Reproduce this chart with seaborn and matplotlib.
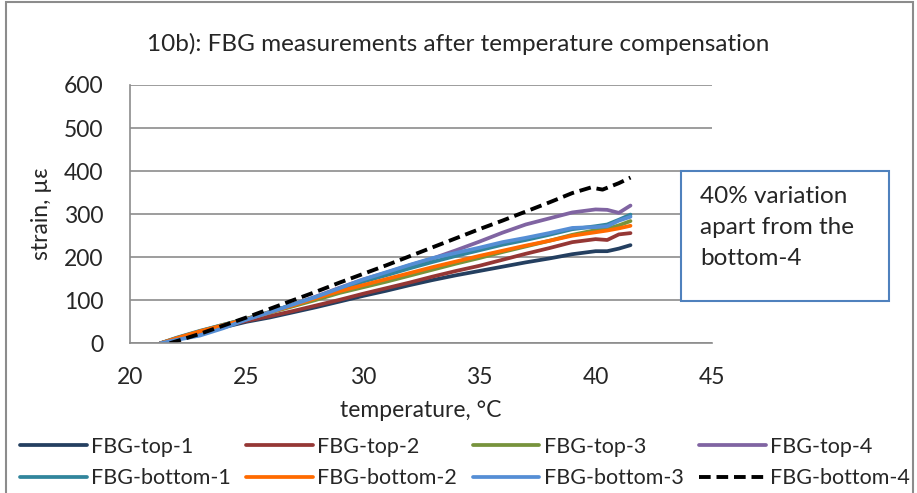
import pandas as pd
import matplotlib.pyplot as plt
import seaborn as sns
from matplotlib.patches import Rectangle

temperature = [21.3, 22, 23, 24, 25, 26, 27, 28, 29, 30, 31, 32, 33, 34, 35,
               36, 37, 38, 39, 40, 40.5, 41, 41.5]
temperature_b4 = [21.7, 22, 23, 24, 25, 26, 27, 28, 29, 30, 31, 32, 33, 34, 35,
                  36, 37, 38, 39, 39.8, 40.3, 41, 41.5]

top_1 = [0, 10, 24, 37, 50, 60, 72, 84, 97, 110, 122, 135, 147, 158, 168,
         178, 188, 197, 207, 214, 214, 220, 228]
top_2 = [0, 11, 26, 40, 52, 63, 75, 88, 101, 115, 128, 141, 155, 168, 180,
         194, 208, 221, 235, 242, 240, 253, 256]
top_3 = [0, 12, 28, 43, 57, 71, 86, 101, 117, 130, 143, 157, 171, 185, 198,
         212, 225, 238, 252, 263, 266, 274, 284]
top_4 = [0, 10, 25, 40, 55, 72, 90, 109, 129, 148, 164, 181, 197, 216, 236,
         257, 276, 290, 304, 311, 310, 303, 320]
bottom_1 = [0, 13, 29, 43, 57, 73, 90, 107, 126, 143, 158, 174, 189, 203, 216,
            229, 240, 252, 265, 272, 276, 287, 299]
bottom_2 = [0, 12, 28, 42, 56, 72, 88, 105, 121, 135, 149, 163, 177, 190, 203,
            215, 227, 238, 250, 258, 262, 267, 273]
bottom_3 = [0, 8, 18, 35, 55, 72, 90, 108, 128, 148, 165, 182, 198, 210, 222,
            235, 245, 256, 268, 270, 272, 285, 294]
bottom_4 = [0, 5, 22, 41, 60, 80, 100, 120, 141, 161, 181, 202, 223, 244, 265,
            285, 306, 327, 349, 362, 357, 372, 385]

names = ['FBG-top-1', 'FBG-top-2', 'FBG-top-3', 'FBG-top-4',
         'FBG-bottom-1', 'FBG-bottom-2', 'FBG-bottom-3', 'FBG-bottom-4']
series = [top_1, top_2, top_3, top_4, bottom_1, bottom_2, bottom_3, bottom_4]
colors = ['#243F60', '#953735', '#77933C', '#8064A2',
          '#31859C', '#FF6A00', '#558ED5', '#000000']

sns.set_style('white')
plt.rcParams['font.family'] = ['Lato', 'DejaVu Sans']

fig = plt.figure(figsize=(9.17, 4.93), dpi=100)
ax = fig.add_axes([0.1418, 0.3036, 0.6346, 0.524])

handles = {}
for name, vals, col in zip(names, series, colors):
    xs = temperature_b4 if name == 'FBG-bottom-4' else temperature
    df = pd.DataFrame({'temperature': xs, 'strain': vals})
    sns.lineplot(data=df, x='temperature', y='strain', color=col, lw=2.7,
                 ax=ax, label=name)
    line = ax.get_lines()[-1]
    if name == 'FBG-bottom-4':
        line.set_linestyle((0, (3.0, 1.5)))
        line.set_linewidth(2.8)
    handles[name] = line

ax.set_xlim(20, 45)
ax.set_ylim(0, 600)
ax.set_xticks([20, 25, 30, 35, 40, 45])
ax.set_yticks(range(0, 601, 100))
ax.yaxis.grid(True, color='#8c8c8c', lw=1.2)
ax.set_axisbelow(True)
for s in ['top', 'right']:
    ax.spines[s].set_visible(False)
for s in ['left', 'bottom']:
    ax.spines[s].set_color('#8c8c8c')
    ax.spines[s].set_linewidth(1.2)
ax.tick_params(axis='both', labelsize=16.5, length=0)
ax.tick_params(axis='x', pad=17)
ax.tick_params(axis='y', pad=19)
ax.set_xlabel('temperature, °C', fontsize=16.5, labelpad=9)
ax.set_ylabel('strain, µε', fontsize=16.5, labelpad=9)
ax.get_legend().remove()

fig.text(0.5, 0.911, '10b): FBG measurements after temperature compensation',
         ha='center', va='center', fontsize=17.5)

# annotation box
fig.patches.append(Rectangle((680.5 / 917, 1 - 300.5 / 493), 208.5 / 917, 130 / 493,
                             transform=fig.transFigure, facecolor='white',
                             edgecolor='#4F81BD', lw=1.5, zorder=1))
fig.text(700 / 917, 1 - 186 / 493, '40% variation\napart from the\nbottom-4',
         fontsize=17.5, va='top', ha='left', linespacing=1.58, zorder=3)
# chart border
fig.patches.append(Rectangle((6 / 917, -0.02), 907 / 917, 1.015,
                             transform=fig.transFigure, fill=False,
                             edgecolor='#8c8c8c', lw=1.5))

order = ['FBG-top-1', 'FBG-bottom-1', 'FBG-top-2', 'FBG-bottom-2',
         'FBG-top-3', 'FBG-bottom-3', 'FBG-top-4', 'FBG-bottom-4']
fig.legend([handles[n] for n in order], order, ncol=4, loc='center left',
           bbox_to_anchor=(20 / 917, 1 - 462.5 / 493), frameon=False, fontsize=15.5,
           handlelength=3.1, handletextpad=0.2, columnspacing=0.72,
           labelspacing=0.55, borderpad=0.0, borderaxespad=0.0)

fig.savefig('out.png', dpi=100)
